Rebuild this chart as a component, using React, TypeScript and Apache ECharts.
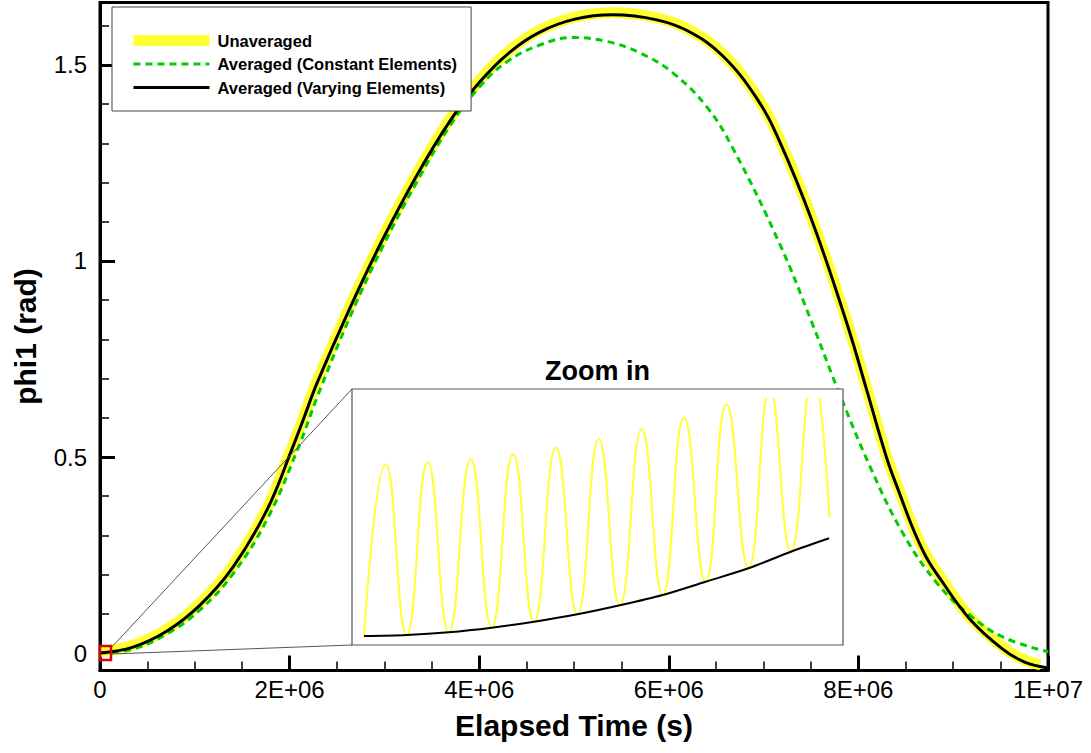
import React, { useEffect, useRef } from "react";
import * as echarts from "echarts";

// ---------- main plot data (time in seconds, phi1 in rad) ----------
const varyingTime = [
  0, 3.48e5, 7.07e5, 1.055e6, 1.403e6, 1.761e6, 2.025e6, 2.15e6, 2.288e6, 2.636e6, 2.984e6, 3.343e6,
  3.691e6, 4.007e6, 4.324e6, 4.64e6, 5.009e6, 5.41e6, 5.874e6, 6.222e6, 6.57e6, 6.928e6,
  7.171e6, 7.519e6, 7.877e6, 8.078e6, 8.299e6, 8.436e6, 8.573e6, 8.71e6, 8.858e6, 9.174e6,
  9.522e6, 9.754e6, 1.0e7,
];
const varyingPhi = [
  0, 0.015, 0.056, 0.122, 0.219, 0.365, 0.52, 0.599, 0.688, 0.88, 1.056, 1.219,
  1.357, 1.457, 1.533, 1.584, 1.617, 1.628, 1.615, 1.584, 1.523, 1.415,
  1.304, 1.097, 0.842, 0.679, 0.497, 0.406, 0.319, 0.247, 0.191, 0.087,
  0.01, -0.023, -0.038,
];

const unavgTime = [
  0, 3.48e5, 7.07e5, 1.055e6, 1.403e6, 1.761e6, 2.025e6, 2.15e6, 2.288e6, 2.636e6, 2.984e6, 3.343e6,
  3.691e6, 4.007e6, 4.324e6, 4.64e6, 5.009e6, 5.41e6, 5.874e6, 6.222e6, 6.57e6, 6.928e6,
  7.171e6, 7.519e6, 7.877e6, 8.078e6, 8.299e6, 8.436e6, 8.573e6, 8.71e6, 8.858e6, 9.174e6,
  9.522e6, 9.754e6, 9.92e6,
];
const unavgPhi = [
  0.004, 0.02, 0.061, 0.127, 0.224, 0.37, 0.525, 0.604, 0.693, 0.885, 1.061, 1.224,
  1.362, 1.462, 1.538, 1.589, 1.622, 1.633, 1.62, 1.589, 1.528, 1.42,
  1.309, 1.102, 0.847, 0.684, 0.502, 0.411, 0.324, 0.252, 0.196, 0.092,
  0.015, -0.018, -0.03,
];

const constTime = [
  0, 3.48e5, 7.07e5, 1.055e6, 1.403e6, 1.761e6, 2.109e6, 2.288e6, 2.636e6, 2.984e6, 3.343e6,
  3.691e6, 4.007e6, 4.292e6, 4.64e6, 4.988e6, 5.346e6, 5.694e6, 6.042e6, 6.401e6, 6.675e6,
  7.171e6, 7.519e6, 7.772e6, 8.12e6, 8.468e6, 8.826e6, 9.174e6, 9.522e6, 1.0e7,
];
const constPhi = [
  0, 0.01, 0.049, 0.11, 0.202, 0.34, 0.534, 0.651, 0.857, 1.038, 1.202,
  1.345, 1.445, 1.508, 1.551, 1.57, 1.56, 1.531, 1.48, 1.393, 1.288,
  1.043, 0.837, 0.679, 0.477, 0.306, 0.179, 0.097, 0.041, 0.003,
];

// ---------- inset ("Zoom in") data: time in ks, phi1 in mrad ----------
const insetVaryingTime = [0, 9.16, 18.2, 27.4, 36.5, 45.8, 54.9, 64.1, 73.3, 82.5, 91.6, 99.8];
const insetVaryingPhi = [0, 0.13, 0.47, 1.05, 1.81, 2.75, 3.89, 5.19, 6.87, 8.57, 10.67, 12.37];

const insetUnavgTime = [
  0, 4.66, 9.16, 13.67, 18.2, 22.9, 27.4, 32.0, 36.5, 41.2, 45.8, 50.4, 54.9, 59.6,
  64.1, 68.7, 73.3, 77.8, 82.5, 87.1, 91.6, 96.3, 99.9,
];
const insetUnavgPhi = [
  0, 21.73, 0.13, 21.99, 0.47, 22.41, 1.05, 23.04, 1.81, 23.84, 2.75, 24.94, 3.89, 26.16,
  5.19, 27.63, 6.87, 29.33, 8.57, 31.2, 10.67, 33.4, 14.9,
];

// ---------- axes ----------
const X_MIN = 0;
const X_MAX = 1e7;
const X_INTERVAL = 2e6;
const Y_MIN = -0.0446;
const Y_MAX = 1.6594;
const Y_MAJOR = [0, 0.5, 1, 1.5];
const Y_MINOR = [0.1, 0.2, 0.3, 0.4, 0.6, 0.7, 0.8, 0.9, 1.1, 1.2, 1.3, 1.4, 1.6];
const INSET_X_MAX = 100;
const INSET_Y_MAX = 30;

// zoomed region shown by the red square (seconds, rad)
const zoomRegionTime = [0, 1.16e5];
const zoomRegionPhi = [-0.018, 0.018];

const SERIES_NAMES = ["Unaveraged", "Averaged (Constant Elements)", "Averaged (Varying Elements)"];

const FONT = "'Liberation Sans', Arial, Helvetica, sans-serif";
const YELLOW = "#ffff33";
const GREEN = "#00cc00";

const zip = (a: number[], b: number[]) => a.map((v, i) => [v, b[i]]);

const sciFormat = (v: number) => {
  if (v === 0) return "0";
  const exp = Math.floor(Math.log10(Math.abs(v)) + 1e-9);
  const mant = Math.round((v / Math.pow(10, exp)) * 100) / 100;
  return `${mant}E+${String(exp).padStart(2, "0")}`;
};

export default function App() {
  const ref = useRef<HTMLDivElement>(null);

  useEffect(() => {
    document.body.style.margin = "0";
    const chart = echarts.init(ref.current!, null, { renderer: "svg" });

    const option: any = {
      animation: false,
      backgroundColor: "#fff",
      grid: [
        {
          left: 100,
          top: 2.5,
          width: 948,
          height: 668,
          show: true,
          borderColor: "#000",
          borderWidth: 3,
          backgroundColor: "transparent",
        },
        { left: 364, top: 399, width: 466, height: 237, show: false },
      ],
      legend: {
        data: SERIES_NAMES,
        orient: "vertical",
        left: 112,
        top: 7,
        padding: [25, 14, 15, 16],
        itemWidth: 76,
        itemHeight: 14,
        itemGap: 6.5,
        backgroundColor: "#fff",
        borderColor: "#444",
        borderWidth: 1,
        selectedMode: false,
        z: 8,
        itemStyle: { opacity: 0 },
        lineStyle: { width: "inherit" },
        textStyle: {
          fontFamily: FONT,
          fontSize: 16.5,
          lineHeight: 14,
          fontWeight: "bold",
          color: "#000",
          padding: [0, 0, 0, 3],
        },
      },
      xAxis: [
        {
          gridIndex: 0,
          type: "value",
          min: X_MIN,
          max: X_MAX,
          interval: X_INTERVAL,
          axisLine: { show: true, onZero: false, lineStyle: { color: "#000", width: 3 } },
          axisTick: { show: true, inside: true, length: 15, lineStyle: { color: "#000", width: 3 } },
          minorTick: { show: true, splitNumber: 4, length: 9, lineStyle: { color: "#000", width: 1.5 } },
          axisLabel: { formatter: sciFormat, fontSize: 24, color: "#000", fontFamily: FONT, margin: 7 },
          splitLine: { show: false },
          minorSplitLine: { show: false },
          name: "Elapsed Time (s)",
          nameLocation: "middle",
          nameGap: 40,
          nameTextStyle: { fontSize: 30, fontWeight: "bold", color: "#000", fontFamily: FONT },
        },
        { gridIndex: 1, type: "value", min: 0, max: INSET_X_MAX, show: false },
      ],
      yAxis: [
        {
          gridIndex: 0,
          type: "value",
          min: Y_MIN,
          max: Y_MAX,
          position: "left",
          axisLine: { show: true, onZero: false, lineStyle: { color: "#000", width: 3 } },
          axisTick: {
            show: true,
            inside: true,
            length: 15,
            customValues: Y_MAJOR,
            lineStyle: { color: "#000", width: 3 },
          },
          axisLabel: { customValues: Y_MAJOR, fontSize: 24, color: "#000", fontFamily: FONT, margin: 13 },
          splitLine: { show: false },
          name: "phi1 (rad)",
          nameLocation: "middle",
          nameGap: 60,
          nameTextStyle: { fontSize: 30, fontWeight: "bold", color: "#000", fontFamily: FONT },
        },
        {
          gridIndex: 0,
          type: "value",
          min: Y_MIN,
          max: Y_MAX,
          position: "left",
          offset: 0,
          axisLine: { show: false },
          axisTick: {
            show: true,
            inside: true,
            length: 9,
            customValues: Y_MINOR,
            lineStyle: { color: "#000", width: 1.5 },
          },
          axisLabel: { show: false },
          splitLine: { show: false },
        },
        { gridIndex: 1, type: "value", min: 0, max: INSET_Y_MAX, show: false },
      ],
      series: [
        {
          name: SERIES_NAMES[0],
          type: "line",
          xAxisIndex: 0,
          yAxisIndex: 0,
          data: zip(unavgTime, unavgPhi),
          smooth: 0.4,
          symbol: "none",
          lineStyle: { color: YELLOW, width: 11 },
          itemStyle: { color: YELLOW },
          z: 2,
        },
        {
          name: SERIES_NAMES[1],
          type: "line",
          xAxisIndex: 0,
          yAxisIndex: 0,
          data: zip(constTime, constPhi),
          smooth: 0.4,
          symbol: "none",
          lineStyle: { color: GREEN, width: 3, type: [7, 5] },
          itemStyle: { color: GREEN },
          z: 2,
        },
        {
          name: SERIES_NAMES[2],
          type: "line",
          xAxisIndex: 0,
          yAxisIndex: 0,
          data: zip(varyingTime, varyingPhi),
          smooth: 0.4,
          symbol: "none",
          lineStyle: { color: "#000", width: 3 },
          itemStyle: { color: "#000" },
          z: 2,
        },
        {
          name: "inset-unaveraged",
          type: "line",
          xAxisIndex: 1,
          yAxisIndex: 2,
          data: zip(insetUnavgTime, insetUnavgPhi),
          smooth: 0.5,
          symbol: "none",
          clip: true,
          lineStyle: { color: YELLOW, width: 2 },
          z: 6,
        },
        {
          name: "inset-varying",
          type: "line",
          xAxisIndex: 1,
          yAxisIndex: 2,
          data: zip(insetVaryingTime, insetVaryingPhi),
          smooth: 0.3,
          symbol: "none",
          clip: true,
          lineStyle: { color: "#000", width: 2 },
          z: 6,
        },
      ],
    };

    chart.setOption(option);

    // red zoom square, inset frame & connectors
    const sqTL = chart.convertToPixel({ gridIndex: 0 } as any, [zoomRegionTime[0], zoomRegionPhi[1]]) as number[];
    const sqBR = chart.convertToPixel({ gridIndex: 0 } as any, [zoomRegionTime[1], zoomRegionPhi[0]]) as number[];
    const boxL = 352;
    const boxT = 389;
    const boxW = 491;
    const boxH = 256;
    const sqMidY = (sqTL[1] + sqBR[1]) / 2;

    chart.setOption({
      graphic: [
        {
          type: "rect",
          z: 4,
          silent: true,
          shape: { x: sqTL[0], y: sqTL[1], width: sqBR[0] - sqTL[0], height: sqBR[1] - sqTL[1] },
          style: { fill: "none", stroke: "#dd0000", lineWidth: 2.5 },
        },
        {
          type: "line",
          z: 4,
          silent: true,
          shape: { x1: sqBR[0], y1: sqTL[1] + 2, x2: boxL, y2: boxT },
          style: { stroke: "#555", lineWidth: 1 },
        },
        {
          type: "line",
          z: 4,
          silent: true,
          shape: { x1: sqBR[0], y1: sqMidY + 1, x2: boxL, y2: boxT + boxH },
          style: { stroke: "#555", lineWidth: 1 },
        },
        {
          type: "rect",
          z: 5,
          silent: true,
          shape: { x: boxL, y: boxT, width: boxW, height: boxH },
          style: { fill: "#fff", stroke: "#555", lineWidth: 1.2 },
        },
        {
          type: "text",
          z: 5,
          silent: true,
          x: boxL + boxW / 2,
          y: 371,
          style: {
            text: "Zoom in",
            fontFamily: FONT,
            fontSize: 27,
            fontWeight: "bold",
            fill: "#000",
            textAlign: "center",
            textVerticalAlign: "middle",
          },
        },
      ],
    });

    return () => chart.dispose();
  }, []);

  return (
    <div
      ref={ref}
      style={{ position: "absolute", left: 0, top: 0, width: 1091, height: 753 }}
    />
  );
}
